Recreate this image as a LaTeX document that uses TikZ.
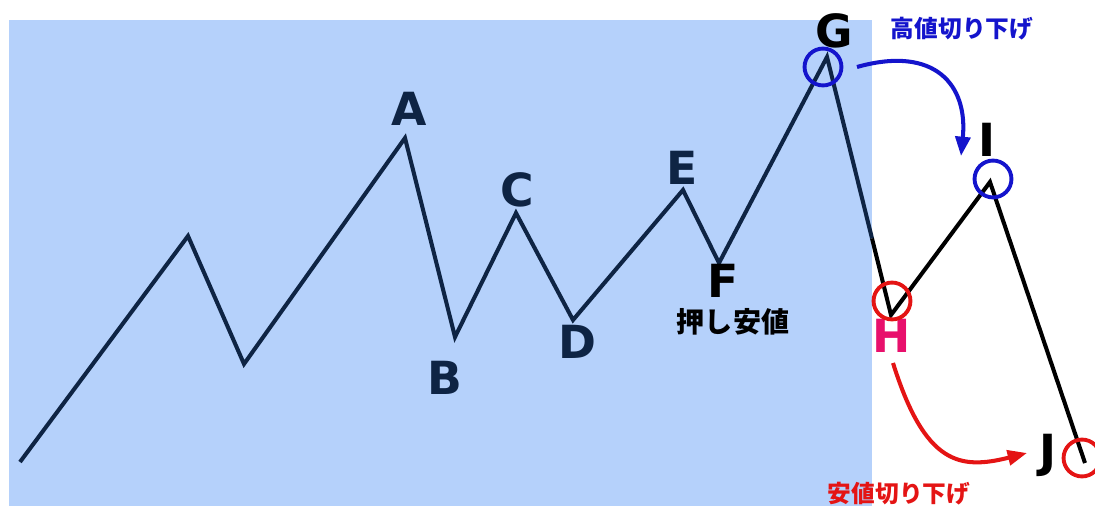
\documentclass[tikz,border=0pt]{standalone}
\usepackage{fontspec}
\setmainfont{DejaVu Sans}
\newfontfamily\jpfont{Noto Sans CJK JP}
\usetikzlibrary{arrows.meta}
\definecolor{zzNavy}{HTML}{0E2444}
\definecolor{zzZone}{HTML}{B5D1FB}
\definecolor{zzBlue}{HTML}{1414CC}
\definecolor{zzRed}{HTML}{E41414}
\definecolor{zzPink}{HTML}{E8106C}
\tikzset{
  wave/.style    ={line width=2.3pt,line join=miter},
  ptlbl/.style   ={font=\fontsize{26}{26}\selectfont\bfseries,inner sep=0pt},
  jplbl/.style   ={font=\fontsize{13.5}{14}\selectfont\jpfont\bfseries,inner sep=0pt},
  ring/.style    ={line width=2.2pt,circle,minimum size=21pt,inner sep=0pt},
  turn/.style    ={line width=2.3pt,-{Triangle[length=11pt,width=8.5pt]}},
}
\begin{document}
\begin{tikzpicture}[x=0.02cm,y=-0.02cm]
\useasboundingbox (0,0) rectangle (1095,506);
\fill[zzZone] (9,20) rectangle (872,506);

% turning points
\coordinate (p0) at (20,462);
\coordinate (p1) at (188,236);
\coordinate (p2) at (244,364);
\coordinate (a) at (405,138);
\coordinate (b) at (455,337);
\coordinate (c) at (516,213);
\coordinate (d) at (573,320);
\coordinate (e) at (683,190);
\coordinate (f) at (719,263);
\coordinate (g) at (827,57);
\coordinate (edge) at (872,238.4);
\coordinate (h) at (891,315);
\coordinate (i) at (990,182);
\coordinate (j) at (1085,463);

\draw[wave,zzNavy] (p0) -- (p1) -- (p2) -- (a) -- (b) -- (c) -- (d) -- (e) -- (f) -- (g) -- (edge);
\draw[wave,black] (edge) -- (h) -- (i) -- (j);

% letters
\node[ptlbl,text=zzNavy] (la) at (409,109) {A};
\node[ptlbl,text=zzNavy] (lb) at (445,378) {B};
\node[ptlbl,text=zzNavy] (lc) at (517,190) {C};
\node[ptlbl,text=zzNavy] (ld) at (577,342) {D};
\node[ptlbl,text=zzNavy] (le) at (682,168) {E};
\node[ptlbl,text=black] (lf) at (723,281) {F};
\node[jplbl,font=\fontsize{16}{16}\selectfont\jpfont\bfseries] (push) at (733,322) {押し安値};

\node[ptlbl,text=black] (lg) at (834,31) {G};
\node[ptlbl,text=zzPink] (lh) at (892,336) {H};
\node[ptlbl,text=black] (li) at (987,140) {I};
\node[ptlbl,text=black] (lj) at (1048,455) {J};

% rings
\node[ring,draw=zzBlue] (rg) at (823,67) {};
\node[ring,draw=zzBlue] (ri) at (993,179) {};
\node[ring,draw=zzRed] (rh) at (892,301) {};
\node[ring,draw=zzRed] (rj) at (1082,458) {};

% lower highs / lower lows
\node[jplbl,text=zzBlue] (hightxt) at (962,29) {高値切り下げ};
\node[jplbl,text=zzRed] (lowtxt) at (899,494) {安値切り下げ};
\coordinate (bs) at (857,67);
\coordinate (be) at (961,156);
\coordinate (rs) at (893,363);
\coordinate (re) at (1027,453);
\draw[turn,zzBlue] (bs) .. controls (935,45) and (968,85) .. (be);
\draw[turn,zzRed] (rs) .. controls (925,465) and (960,470) .. (re);
\end{tikzpicture}
\end{document}
